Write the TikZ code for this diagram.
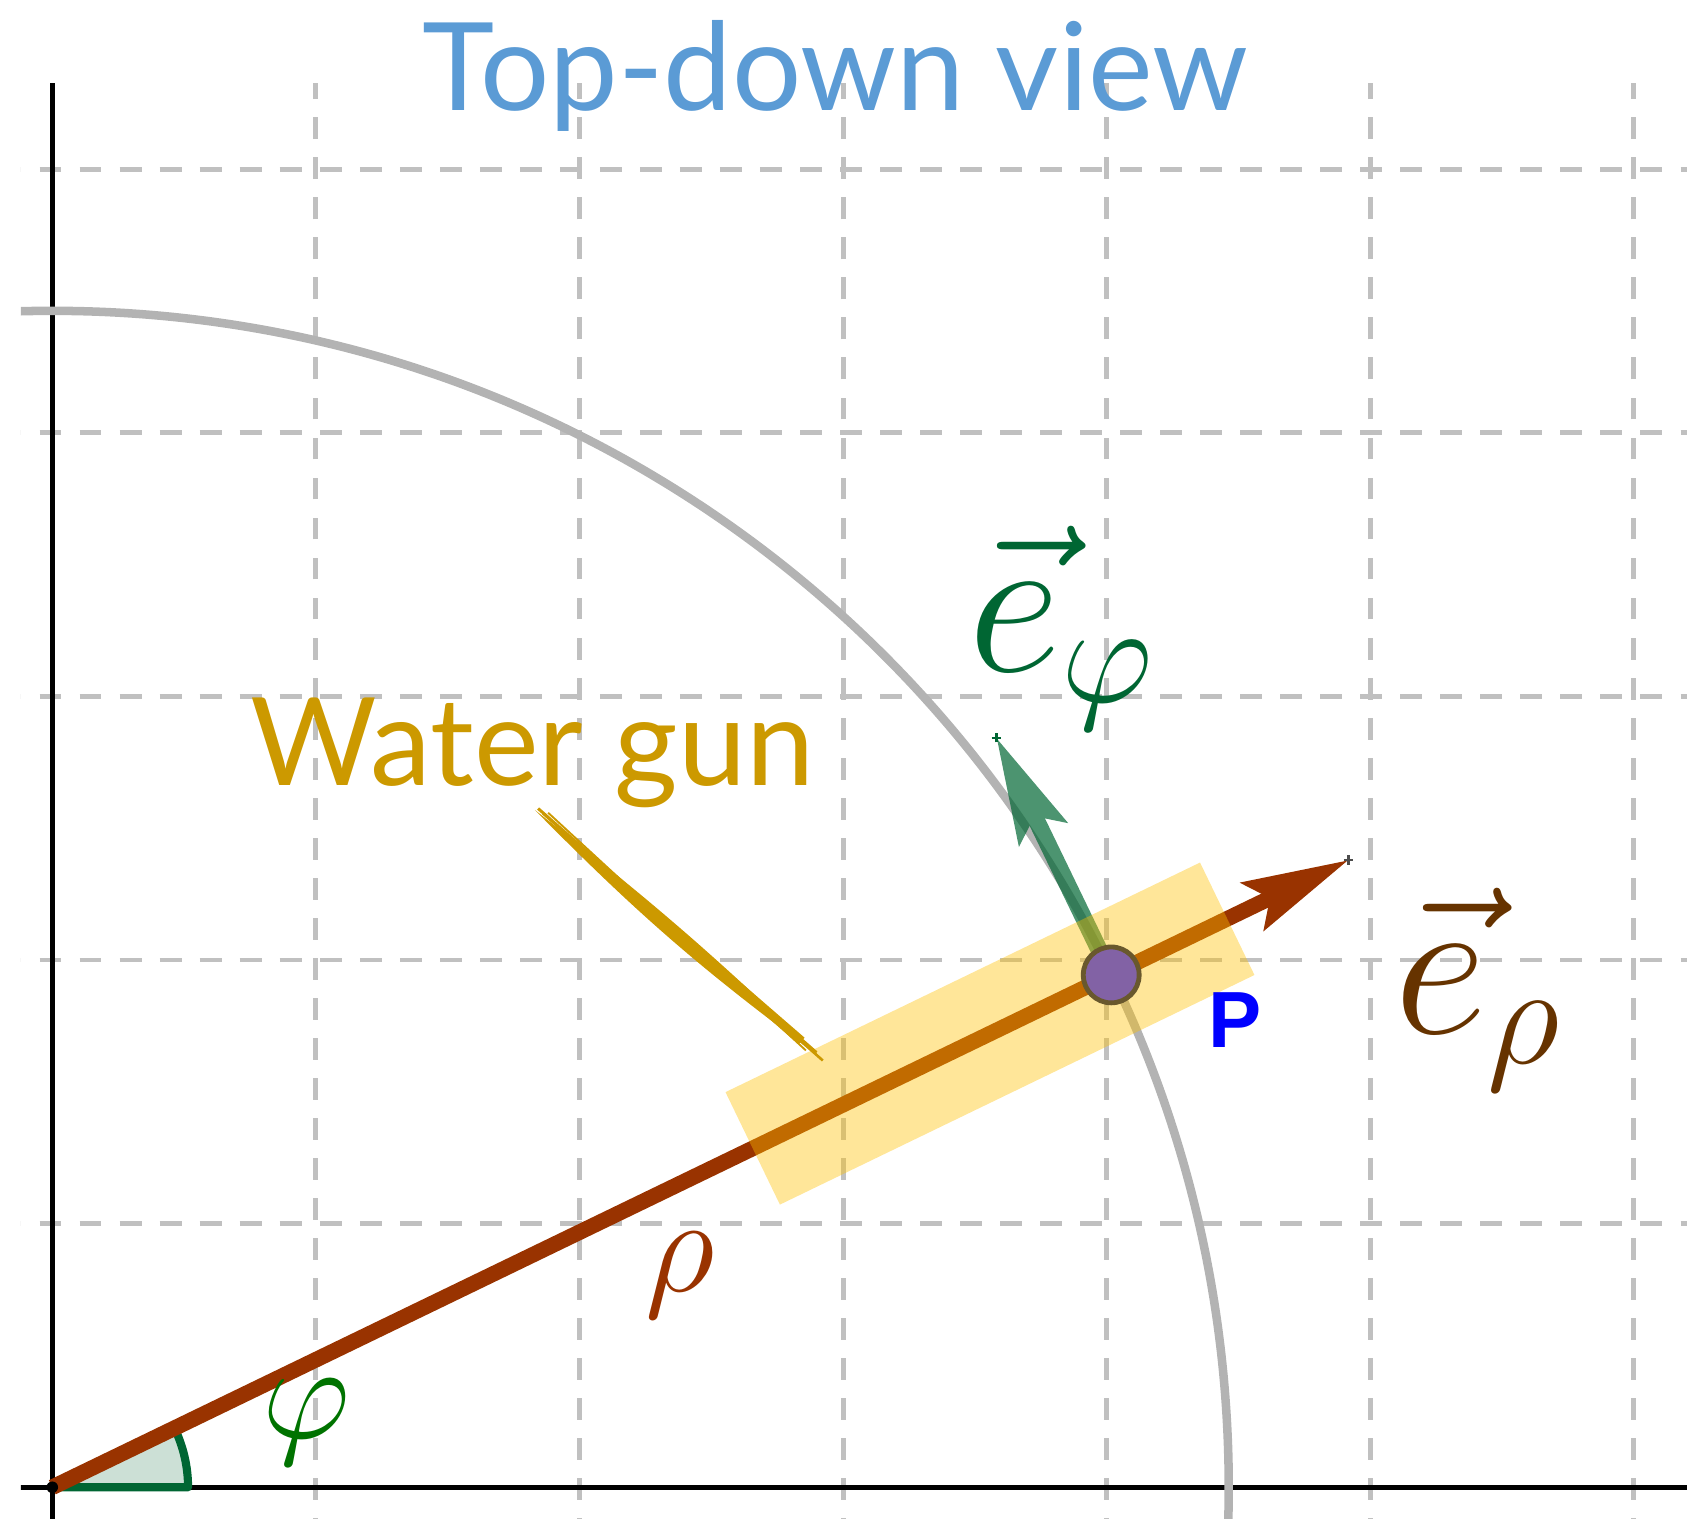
\RequirePackage{fix-cm}
\documentclass[tikz,border=0pt]{standalone}
\usepackage{fontspec}
\newfontfamily\labelfont{Lato}
\newfontfamily\pointfont{Liberation Sans}
\usetikzlibrary{arrows.meta,calc}

\definecolor{gridgray}{RGB}{192,192,192}
\definecolor{arcgray}{RGB}{179,179,179}
\definecolor{rhobrown}{RGB}{153,51,0}
\definecolor{erhobrown}{RGB}{102,51,0}
\definecolor{ephigreen}{RGB}{0,102,51}
\definecolor{phigreen}{RGB}{0,115,0}
\definecolor{gunyellow}{RGB}{204,153,0}
\definecolor{gunfill}{RGB}{255,192,0}
\definecolor{titleblue}{RGB}{91,155,213}
\definecolor{pointpurple}{RGB}{130,98,165}
\definecolor{pointrim}{RGB}{105,88,45}

\begin{document}
\begin{tikzpicture}
    [x=2.5cm,y=2.5cm,
     gridline/.style={draw=gridgray,line width=1.3pt,dash pattern=on 5.9pt off 4.9pt},
     axisline/.style={draw=black,line width=1.3pt},
     arcline/.style={draw=arcgray,line width=2.3pt},
     vectip/.style={-{Stealth[length=28.5pt,width=14pt,inset=5pt]}},
     bigtext/.style={font=\labelfont\fontsize{33}{40}\selectfont,anchor=base,inner sep=0pt},
     mathlabel/.style={font=\fontsize{37}{44}\selectfont,inner sep=0pt},
     veclabel/.style={font=\fontsize{55}{66}\selectfont,anchor=base west,inner sep=0pt}]

    \pgfmathsetmacro{\rhoLength}{4.463}
    \pgfmathsetmacro{\phiAngle}{25.82}

    \useasboundingbox (-0.1984,-0.1203) rectangle (6.2016,5.6422);

    % graphics view: grid, axes and the circle through P
    \begin{scope}
        \clip (-0.119,-0.1203) rectangle (6.2016,5.327);
        \foreach \x in {1,...,6} \draw[gridline] (\x,-0.2) -- (\x,5.4);
        \foreach \y in {1,...,5} \draw[gridline] (-0.2,\y) -- (6.3,\y);
        \draw[axisline] (-0.2,0) -- (6.3,0);
        \draw[axisline] (0,-0.2) -- (0,5.4);
        \draw[arcline] (0,0) circle (\rhoLength);
    \end{scope}

    \coordinate (origin) at (0,0);
    \coordinate (P) at (\phiAngle:\rhoLength);
    \coordinate (erho) at (\phiAngle:{\rhoLength+1});
    \coordinate (ephi) at ($(P)+(\phiAngle+90:1)$);

    \filldraw[fill=ephigreen!20,draw=ephigreen,line width=2.2pt,line join=round]
        (origin) -- (0.515,0) arc[start angle=0,end angle=\phiAngle,radius=0.515] -- cycle;

    \begin{scope}[transparency group,opacity=0.7]
        \draw[ephigreen,line width=4.6pt,vectip] (P) -- (ephi);
    \end{scope}
    \draw[rhobrown,line width=4.2pt,vectip] (origin) -- (erho);

    \draw[gray!60!black,line width=0.6pt] ($(erho)+(-0.018,0)$) -- ($(erho)+(0.018,0)$)
        ($(erho)+(0,-0.018)$) -- ($(erho)+(0,0.018)$);
    \draw[ephigreen,line width=0.6pt] ($(ephi)+(-0.018,0)$) -- ($(ephi)+(0.018,0)$)
        ($(ephi)+(0,-0.018)$) -- ($(ephi)+(0,0.018)$);

    % the water gun
    \fill[gunfill,opacity=0.4,rotate=\phiAngle] (2.952,-0.237) rectangle (4.952,0.237);

    \filldraw[fill=pointpurple,draw=pointrim,line width=1.3pt] (P) circle (0.106);
    \fill (origin) circle (0.022);

    \node[bigtext,text=titleblue] (title) at (2.971,5.222) {Top-down view};
    \node[bigtext,text=gunyellow] (gunlabel) at (1.822,2.663) {Water gun};

    % brush stroke from the label to the gun
    \coordinate (brushtail) at (1.831,2.569);
    \coordinate (brushhead) at (2.919,1.627);
    \fill[gunyellow] (brushtail) to[bend left=3] (brushhead) to[bend left=4.5] (brushtail);
    \draw[gunyellow,line width=0.8pt] ($(brushtail)+(0.012,0.006)$) -- ($(brushhead)+(-0.02,0.022)$);
    \draw[gunyellow,line width=0.7pt] ($(brushtail)+(0.03,-0.012)$) -- ($(brushhead)+(0.004,-0.008)$);
    \draw[gunyellow,line width=0.5pt] ($(brushtail)+(0.05,-0.01)$) -- ($(brushhead)+(-0.06,0.03)$);
    \draw[gunyellow,line width=1.4pt] ($(brushtail)!0.2!(brushhead)$) -- ($(brushtail)!0.5!(brushhead)$);
    \draw[gunyellow,line width=2.4pt] ($(brushtail)!0.45!(brushhead)$) -- ($(brushtail)!0.93!(brushhead)$);

    \node[font=\pointfont\bfseries\fontsize{21.5}{26}\selectfont,text=blue,inner sep=0pt]
        (pointlabel) at (4.487,1.772) {P};
    \node[mathlabel,text=rhobrown] (rholabel) at (2.381,0.804) {$\rho$};
    \node[mathlabel,text=phigreen] (philabel) at (0.965,0.247) {$\varphi$};
    \node[veclabel,text=erhobrown] (erholabel) at (5.09,1.723) {$\vec{e}_\rho$};
    \node[veclabel,text=ephigreen] (ephilabel) at (3.475,3.094) {$\vec{e}_\varphi$};
\end{tikzpicture}
\end{document}
